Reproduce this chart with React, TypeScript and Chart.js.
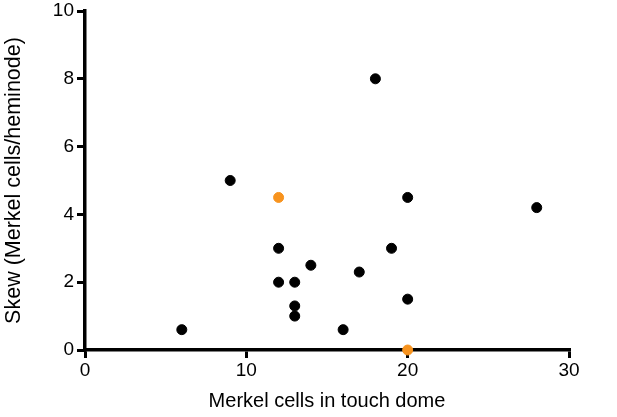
import React, { useEffect, useRef } from "react";
import { Chart, registerables } from "chart.js";

Chart.register(...registerables);

const blackX = [6, 9, 12, 12, 13, 13, 13, 14, 16, 17, 18, 19, 20, 20, 28];
const blackY = [0.6, 5, 3, 2, 2, 1.3, 1, 2.5, 0.6, 2.3, 8, 3, 4.5, 1.5, 4.2];
const orangeX = [12, 20];
const orangeY = [4.5, 0];
const xTitle = "Merkel cells in touch dome";
const yTitle = "Skew (Merkel cells/heminode)";

export default function App() {
  const ref = useRef<HTMLCanvasElement>(null);
  useEffect(() => {
    document.body.style.margin = "0";
    const family = "'Liberation Sans', Arial, Helvetica, sans-serif";
    const font = { family, size: 19 };
    const chart = new Chart(ref.current!, {
      type: "scatter",
      data: {
        datasets: [
          {
            data: blackX.map((x, i) => ({ x, y: blackY[i] })),
            backgroundColor: "#000",
            borderColor: "#000",
            pointRadius: 5,
            clip: false as any,
          },
          {
            data: orangeX.map((x, i) => ({ x, y: orangeY[i] })),
            backgroundColor: "#F7931E",
            borderColor: "#F7931E",
            pointRadius: 5,
            clip: false as any,
          },
        ],
      },
      options: {
        animation: false,
        responsive: false,
        layout: { padding: { left: 0, top: 11, right: 48, bottom: 0 } },
        plugins: { legend: { display: false }, tooltip: { enabled: false } },
        scales: {
          x: {
            type: "linear",
            min: 0,
            max: 30,
            ticks: { stepSize: 10, color: "#000", font, padding: 1 },
            grid: { drawOnChartArea: false, drawTicks: true, tickLength: 8, color: "#000", lineWidth: 3 },
            border: { display: true, color: "#000", width: 3.5 },
            title: { display: true, text: xTitle, color: "#000", font: { family, size: 20 }, padding: { top: 4 } },
            afterFit: (s: any) => { s.height = 67; s.paddingLeft = 0; s.paddingRight = 0; },
          },
          y: {
            type: "linear",
            min: 0,
            max: 10,
            ticks: { stepSize: 2, color: "#000", font, padding: 3 },
            grid: { drawOnChartArea: false, drawTicks: true, tickLength: 8, color: "#000", lineWidth: 3 },
            border: { display: true, color: "#000", width: 3.5 },
            title: { display: true, text: yTitle, color: "#000", font: { family, size: 21.5 }, padding: { top: 1, bottom: 6 } },
            afterFit: (s: any) => { s.width = 85; s.paddingTop = 0; s.paddingBottom = 0; },
          },
        },
      },
    });
    return () => chart.destroy();
  }, []);
  return (
    <div style={{ position: "absolute", left: 0, top: 0, width: 617, height: 417 }}>
      <canvas ref={ref} width={617} height={417} />
    </div>
  );
}
